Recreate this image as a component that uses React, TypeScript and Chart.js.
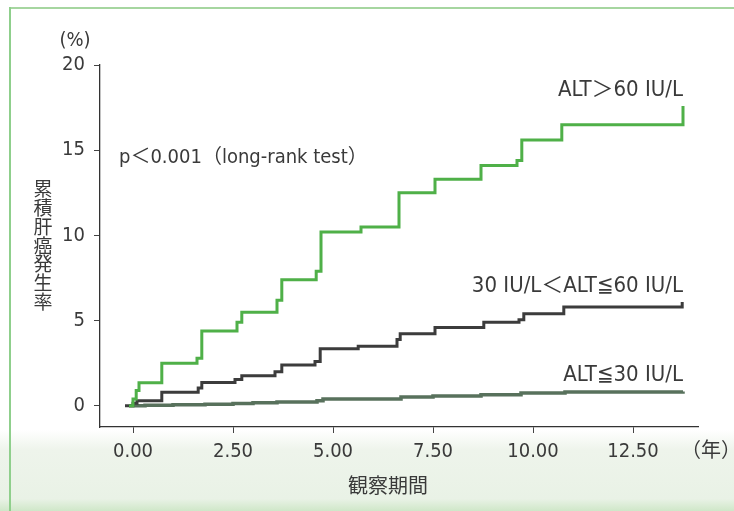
import React, { useEffect, useRef } from "react";
import { Chart, registerables } from "chart.js";

Chart.register(...registerables);

// ---- data ----
const xTickValues = [0, 2.5, 5, 7.5, 10, 12.5];
const yTickValues = [0, 5, 10, 15, 20];

const highTimes = [-0.1, 0.0, 0.08, 0.15, 0.72, 1.6, 1.72, 2.6, 2.72, 3.6, 3.72, 4.58, 4.7, 5.7, 6.65, 7.55, 8.7, 9.6, 9.72, 10.72, 13.75];
const highRates = [0, 0.4, 0.9, 1.35, 2.5, 2.8, 4.4, 4.9, 5.5, 6.2, 7.4, 7.9, 10.2, 10.5, 12.5, 13.3, 14.1, 14.4, 15.6, 16.5, 17.6];

const midTimes = [-0.2, 0.0, 0.1, 0.72, 1.63, 1.72, 2.55, 2.72, 3.55, 3.72, 4.55, 4.68, 5.63, 6.6, 6.68, 7.55, 8.77, 9.65, 9.77, 10.77, 13.73];
const midRates = [0, 0.15, 0.3, 0.8, 1.05, 1.37, 1.55, 1.76, 2.0, 2.4, 2.6, 3.35, 3.5, 3.9, 4.23, 4.6, 4.9, 5.05, 5.4, 5.8, 6.1];

const lowTimes = [-0.1, 0.3, 1.0, 1.8, 2.5, 3.0, 3.6, 4.6, 4.75, 6.7, 7.5, 8.7, 9.7, 10.8, 13.75];
const lowRates = [0, 0.03, 0.07, 0.1, 0.14, 0.18, 0.22, 0.3, 0.4, 0.52, 0.58, 0.65, 0.75, 0.82, 0.85];

const seriesLabels = ["ALT＞60 IU/L", "30 IU/L＜ALT≦60 IU/L", "ALT≦30 IU/L"];
const pValueText = "p＜0.001（long-rank test）";
const yUnitText = "(%)";
const xUnitText = "（年）";
const xTitleText = "観察期間";
const yTitleText = "累積肝癌発生率";

const FONT = "'Liberation Sans Narrow', 'DejaVu Sans Condensed', 'Noto Sans CJK JP', sans-serif";
const CJK = "'Noto Sans CJK JP', sans-serif";
const TEXT = "#3a3a3a";

const toPoints = (t: number[], v: number[]) => t.map((x, i) => ({ x, y: v[i] }));

const textPlugin = {
  id: "annotText",
  afterDraw(chart: any) {
    const ctx = chart.ctx as CanvasRenderingContext2D;
    ctx.save();
    ctx.fillStyle = TEXT;
    ctx.textBaseline = "middle";
    // unit labels
    ctx.font = `20px ${FONT}`;
    ctx.textAlign = "center";
    ctx.fillText(yUnitText, 75, 41);
    ctx.textAlign = "left";
    ctx.fillText(xUnitText, 681, 452);
    // p value
    ctx.font = `20px ${FONT}`;
    ctx.textAlign = "left";
    ctx.fillText(pValueText, 119, 158);
    // series labels
    ctx.font = `22px ${FONT}`;
    ctx.textAlign = "right";
    ctx.fillText(seriesLabels[0], 683, 90);
    ctx.fillText(seriesLabels[1], 683, 286);
    ctx.fillText(seriesLabels[2], 683, 375);
    // x title
    ctx.textAlign = "center";
    ctx.font = `20px ${CJK}`;
    ctx.fillText(xTitleText, 388, 485);
    // y title vertical
    ctx.font = `19px ${CJK}`;
    const chars = Array.from(yTitleText);
    chars.forEach((c, i) => {
      ctx.fillText(c, 43, 189 + i * 18.8);
    });
    ctx.restore();
  },
};

export default function App() {
  const canvasRef = useRef<HTMLCanvasElement | null>(null);

  useEffect(() => {
    document.body.style.margin = "0";
    const canvas = canvasRef.current!;
    const chart = new Chart(canvas, {
      type: "line",
      data: {
        datasets: [
          {
            label: seriesLabels[0],
            data: toPoints(highTimes, highRates),
            borderColor: "#4fb048",
            borderWidth: 3,
            stepped: "before",
            pointRadius: 0,
            fill: false,
          },
          {
            label: seriesLabels[1],
            data: toPoints(midTimes, midRates),
            borderColor: "#3c3c3c",
            borderWidth: 3,
            stepped: "before",
            pointRadius: 0,
            fill: false,
          },
          {
            label: seriesLabels[2],
            data: toPoints(lowTimes, lowRates),
            borderColor: "#58715c",
            borderWidth: 3.5,
            stepped: "before",
            pointRadius: 0,
            fill: false,
          },
        ],
      },
      options: {
        responsive: false,
        animation: false,
        devicePixelRatio: 1,
        layout: { padding: { top: 65, right: 36, left: 0, bottom: 0 } },
        plugins: { legend: { display: false }, tooltip: { enabled: false } },
        scales: {
          x: {
            type: "linear",
            min: -0.825,
            max: 14.125,
            afterFit: (s: any) => {
              s.height = 84;
            },
            afterBuildTicks: (s: any) => {
              s.ticks = xTickValues.map((v) => ({ value: v }));
            },
            grid: { drawOnChartArea: false, drawTicks: true, tickLength: 6, color: "#444" },
            border: { display: true, color: "#333", width: 1.3 },
            ticks: {
              padding: 7,
              color: TEXT,
              font: { family: FONT, size: 20 },
              maxRotation: 0,
              callback: (v: any) => Number(v).toFixed(2),
            },
          },
          y: {
            type: "linear",
            min: -1.24,
            max: 20,
            afterFit: (s: any) => {
              s.width = 100;
            },
            afterBuildTicks: (s: any) => {
              s.ticks = yTickValues.map((v) => ({ value: v }));
            },
            grid: { drawOnChartArea: false, drawTicks: true, tickLength: 6, color: "#444" },
            border: { display: true, color: "#333", width: 1.3 },
            ticks: {
              padding: 9,
              color: TEXT,
              font: { family: FONT, size: 20 },
              callback: (v: any) => String(v),
            },
          },
        },
      },
      plugins: [textPlugin],
    });
    return () => chart.destroy();
  }, []);

  return (
    <div style={{ position: "relative", width: 734, height: 511, background: "#ffffff", overflow: "hidden" }}>
      <div
        style={{
          position: "absolute",
          left: 0,
          top: 430,
          width: 734,
          height: 81,
          background: "linear-gradient(to bottom, rgba(236,243,233,0) 0%, #eef4eb 25%, #e9f2e6 85%, #cfe7c8 100%)",
        }}
      />
      <div style={{ position: "absolute", left: 9, top: 7, width: 725, height: 2, background: "#a6d6a0" }} />
      <div style={{ position: "absolute", left: 9, top: 7, width: 2, height: 504, background: "#8fcf8c" }} />
      <canvas ref={canvasRef} width={734} height={511} style={{ position: "absolute", left: 0, top: 0 }} />
    </div>
  );
}
